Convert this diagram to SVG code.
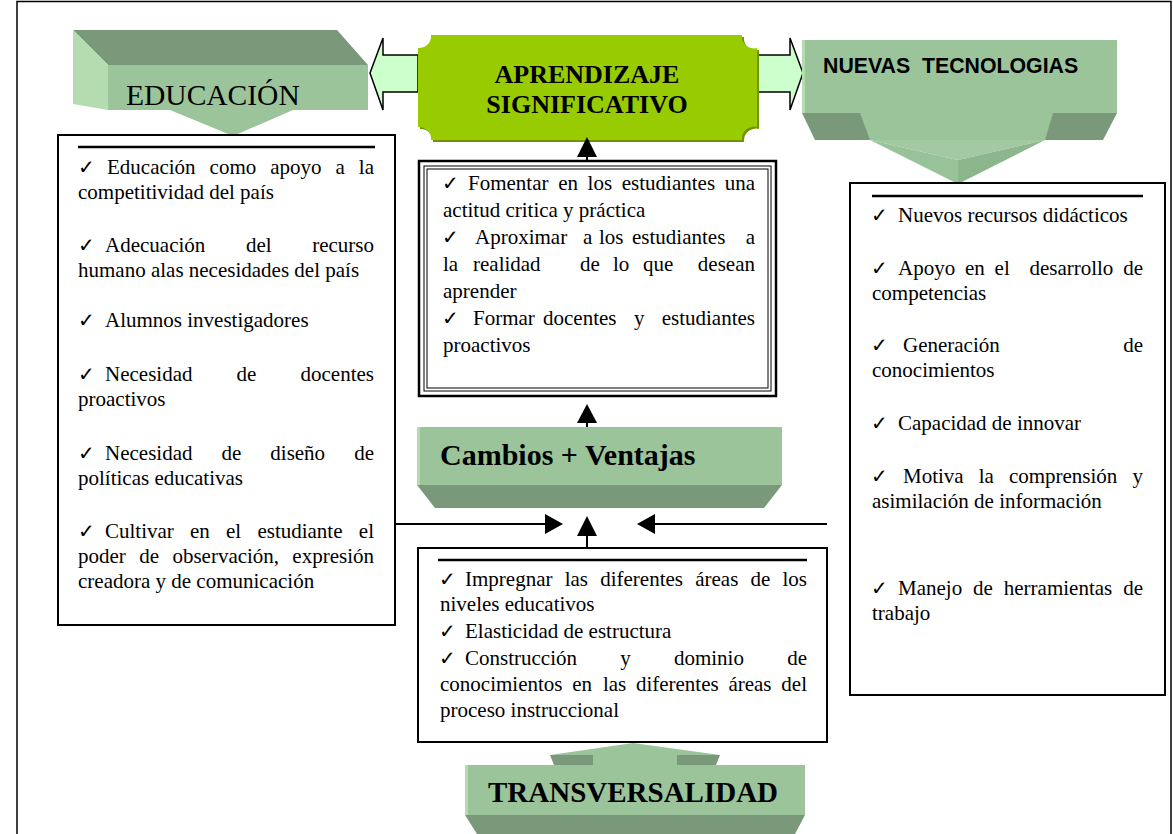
<svg xmlns="http://www.w3.org/2000/svg" width="1173" height="834" viewBox="0 0 1173 834">
<defs>
<style>
.t{font-family:"Liberation Serif","Times New Roman",serif;font-size:21px;fill:#000}
.te{font-family:"Liberation Serif","Times New Roman",serif;font-size:21px;fill:#000;text-anchor:end}
.ck{font-family:"DejaVu Sans",sans-serif;font-size:20px;font-weight:bold;fill:#000}
.box{fill:#fff;stroke:#000;stroke-width:2}
.rule{stroke:#000;stroke-width:2.5}
.front{fill:#9bc49b}
.dark{fill:#7a997a}
.light{fill:#b4dcb0}
.conn{stroke:#000;stroke-width:2;fill:none}
.head{fill:#000}
.dbl{fill:#ccffcc;stroke:#000;stroke-width:1.5;stroke-linejoin:miter}
.hb{font-family:"Liberation Serif","Times New Roman",serif;font-weight:bold;fill:#000}
</style>
</defs>
<rect x="0" y="0" width="1173" height="834" fill="#fff"/>
<path d="M17,834 V1.5 H1171 V834" fill="none" stroke="#000" stroke-width="1.5"/>

<g id="educacion">
<polygon class="dark" points="73,30 337,30 368,65 108,65"/>
<polygon class="light" points="73,30 108,65 108,110 73,104"/>
<rect class="front" x="108" y="65" width="260" height="45"/>
<polygon class="front" points="170,110 293,110 233,136"/>
<text x="126" y="105" font-family="Liberation Serif, Times New Roman, serif" font-size="29.5" fill="#000">EDUCACIÓN</text>
</g>

<g id="aprendizaje">
<polygon class="dbl" points="370,73 383,38 383,55 418,55 418,92 383,92 383,110"/>
<polygon class="dbl" points="757,55 790,55 790,38 803,73 790,110 790,92 757,92"/>
<path d="M433,37 H744 A12 12 0 0 0 759 50 V129 A12 12 0 0 0 744 142 H433 A12 12 0 0 0 420 129 V50 A12 12 0 0 0 433 37 Z" fill="#6f9400"/>
<path d="M431,35 H742 A12 12 0 0 0 757 48 V127 A12 12 0 0 0 742 140 H431 A12 12 0 0 0 418 127 V48 A12 12 0 0 0 431 35 Z" fill="#99cc00"/>
<text class="hb" x="587" y="83" font-size="26" text-anchor="middle">APRENDIZAJE</text>
<text class="hb" x="587" y="113" font-size="26" text-anchor="middle">SIGNIFICATIVO</text>
</g>

<g id="nuevas-tecnologias">
<polygon class="dark" points="802,113 1117,113 1103,140 815,140"/>
<rect class="front" x="802" y="40" width="315" height="73"/>
<rect class="light" x="802" y="40" width="3" height="73"/>
<polygon class="front" points="860,113 1053,113 1045,140 870,140"/>
<polygon fill="#a2c9a2" points="870,140 1045,140 958,160"/>
<polygon fill="#98c298" points="870,140 958,160 958,184"/>
<polygon fill="#8cb68c" points="1045,140 958,160 958,184"/>
<text x="823" y="73" font-family="Liberation Sans, Arial, sans-serif" font-weight="bold" font-size="21.3" fill="#000" xml:space="preserve">NUEVAS  TECNOLOGIAS</text>
</g>

<g id="cambios-ventajas">
<polygon class="dark" points="417,485 782,485 764,508 435,508"/>
<rect class="front" x="417" y="427" width="365" height="58"/>
<rect class="light" x="417" y="427" width="3" height="58"/>
<text class="hb" x="440" y="465" font-size="30">Cambios + Ventajas</text>
</g>

<g id="transversalidad">
<polygon class="front" points="550,755 633,743 720,755"/>
<polygon class="dark" points="550,755 593,755 593,765 554,765"/>
<rect class="front" x="593" y="755" width="84" height="10"/>
<polygon class="dark" points="677,755 720,755 716,765 677,765"/>
<polygon class="dark" points="465,815 805,815 795,834 477,834"/>
<rect class="front" x="465" y="765" width="340" height="50"/>
<rect class="light" x="465" y="765" width="3" height="50"/>
<text class="hb" x="488" y="802" font-size="29">TRANSVERSALIDAD</text>
</g>

<g id="educacion-list">
<rect class="box" x="58" y="135" width="337" height="490"/>
<line class="rule" x1="78" y1="147" x2="375" y2="147"/>
<text class="ck" x="78" y="174">✓</text>
<text class="t" y="174"><tspan x="107">Educación</tspan><tspan x="209.6">como</tspan><tspan x="270.3">apoyo</tspan><tspan x="335.6">a</tspan></text>
<text class="te" x="374" y="174">la</text>
<text class="t" x="78" y="199">competitividad del país</text>
<text class="ck" x="78" y="252">✓</text>
<text class="t" y="252"><tspan x="105">Adecuación</tspan><tspan x="246">del</tspan></text>
<text class="te" x="374" y="252">recurso</text>
<text class="t" x="78" y="277">humano alas necesidades del país</text>
<text class="ck" x="78" y="327">✓</text>
<text class="t" x="105" y="327">Alumnos investigadores</text>
<text class="ck" x="78" y="381">✓</text>
<text class="t" y="381"><tspan x="105">Necesidad</tspan><tspan x="236.6">de</tspan></text>
<text class="te" x="374" y="381">docentes</text>
<text class="t" x="78" y="406">proactivos</text>
<text class="ck" x="78" y="460">✓</text>
<text class="t" y="460"><tspan x="105">Necesidad</tspan><tspan x="221.5">de</tspan><tspan x="270.3">diseño</tspan></text>
<text class="te" x="374" y="460">de</text>
<text class="t" x="78" y="485">políticas educativas</text>
<text class="ck" x="78" y="538">✓</text>
<text class="t" y="538"><tspan x="105">Cultivar</tspan><tspan x="190">en</tspan><tspan x="226">el</tspan><tspan x="257.4">estudiante</tspan></text>
<text class="te" x="374" y="538">el</text>
<text class="t" y="563"><tspan x="78">poder</tspan><tspan x="139.2">de</tspan><tspan x="172.4">observación,</tspan></text>
<text class="te" x="374" y="563">expresión</text>
<text class="t" x="78" y="588">creadora y de comunicación</text>
</g>

<g id="aprendizaje-list">
<rect x="419" y="161" width="357" height="235" fill="#fff" stroke="#000" stroke-width="2.5"/>
<rect x="424" y="166" width="347" height="225" fill="none" stroke="#000" stroke-width="1"/>
<rect x="427" y="169" width="341" height="219" fill="none" stroke="#000" stroke-width="1"/>
<text class="ck" x="442" y="190">✓</text>
<text class="t" y="190"><tspan x="468">Fomentar</tspan><tspan x="558.2">en</tspan><tspan x="587.6">los</tspan><tspan x="621.8">estudiantes</tspan></text>
<text class="te" x="755" y="190">una</text>
<text class="t" x="443" y="217">actitud critica y práctica</text>
<text class="ck" x="442" y="244">✓</text>
<text class="t" y="244"><tspan x="475">Aproximar</tspan><tspan x="583">a</tspan><tspan x="599">los</tspan><tspan x="632">estudiantes</tspan></text>
<text class="te" x="755" y="244">a</text>
<text class="t" y="271"><tspan x="443">la</tspan><tspan x="473">realidad</tspan><tspan x="580">de</tspan><tspan x="613">lo</tspan><tspan x="643">que</tspan></text>
<text class="te" x="755" y="271">desean</text>
<text class="t" x="443" y="298">aprender</text>
<text class="ck" x="442" y="325">✓</text>
<text class="t" y="325"><tspan x="473">Formar</tspan><tspan x="543">docentes</tspan><tspan x="634">y</tspan></text>
<text class="te" x="755" y="325">estudiantes</text>
<text class="t" x="443" y="352">proactivos</text>
</g>

<g id="tecnologias-list">
<rect class="box" x="850" y="183" width="315" height="512"/>
<line class="rule" x1="872" y1="196" x2="1143" y2="196"/>
<text class="ck" x="871" y="222">✓</text>
<text class="t" x="898" y="222">Nuevos recursos didácticos</text>
<text class="ck" x="871" y="275">✓</text>
<text class="t" y="275"><tspan x="898">Apoyo</tspan><tspan x="965">en</tspan><tspan x="994.6">el</tspan><tspan x="1029.4">desarrollo</tspan></text>
<text class="te" x="1143" y="275">de</text>
<text class="t" x="872" y="300">competencias</text>
<text class="ck" x="871" y="352">✓</text>
<text class="t" x="903" y="352">Generación</text>
<text class="te" x="1143" y="352">de</text>
<text class="t" x="872" y="377">conocimientos</text>
<text class="ck" x="871" y="430">✓</text>
<text class="t" x="898" y="430">Capacidad de innovar</text>
<text class="ck" x="871" y="483">✓</text>
<text class="t" y="483"><tspan x="903">Motiva</tspan><tspan x="978.7">la</tspan><tspan x="1008.9">comprensión</tspan></text>
<text class="te" x="1143" y="483">y</text>
<text class="t" x="872" y="508">asimilación de información</text>
<text class="ck" x="871" y="595">✓</text>
<text class="t" y="595"><tspan x="898">Manejo</tspan><tspan x="973.1">de</tspan><tspan x="1003.8">herramientas</tspan></text>
<text class="te" x="1143" y="595">de</text>
<text class="t" x="872" y="620">trabajo</text>
</g>

<g id="transversalidad-list">
<rect class="box" x="418" y="548" width="409" height="194"/>
<line class="rule" x1="438" y1="560" x2="807" y2="560"/>
<text class="ck" x="439" y="586">✓</text>
<text class="t" y="586"><tspan x="465">Impregnar</tspan><tspan x="564.7">las</tspan><tspan x="600.2">diferentes</tspan><tspan x="695.2">áreas</tspan><tspan x="750.5">de</tspan></text>
<text class="te" x="807" y="586">los</text>
<text class="t" x="440" y="611">niveles educativos</text>
<text class="ck" x="439" y="638">✓</text>
<text class="t" x="465" y="638">Elasticidad de estructura</text>
<text class="ck" x="439" y="665">✓</text>
<text class="t" y="665"><tspan x="465">Construcción</tspan><tspan x="620.2">y</tspan><tspan x="673.9">dominio</tspan></text>
<text class="te" x="807" y="665">de</text>
<text class="t" y="691"><tspan x="440">conocimientos</tspan><tspan x="572.2">en</tspan><tspan x="602.9">las</tspan><tspan x="635.9">diferentes</tspan><tspan x="728.4">áreas</tspan></text>
<text class="te" x="807" y="691">del</text>
<text class="t" x="440" y="717">proceso instruccional</text>
</g>

<g id="connectors">
<line class="conn" x1="587" y1="160" x2="587" y2="154"/>
<polygon class="head" points="577,157 597,157 587,137"/>
<line class="conn" x1="587" y1="427" x2="587" y2="420"/>
<polygon class="head" points="577,423 597,423 587,404"/>
<line class="conn" x1="395" y1="524" x2="548" y2="524"/>
<polygon class="head" points="545,514 545,534 563,524"/>
<line class="conn" x1="587" y1="548" x2="587" y2="533"/>
<polygon class="head" points="577,536 597,536 587,516"/>
<line class="conn" x1="827" y1="524" x2="652" y2="524"/>
<polygon class="head" points="655,514 655,534 637,524"/>
</g>
</svg>
